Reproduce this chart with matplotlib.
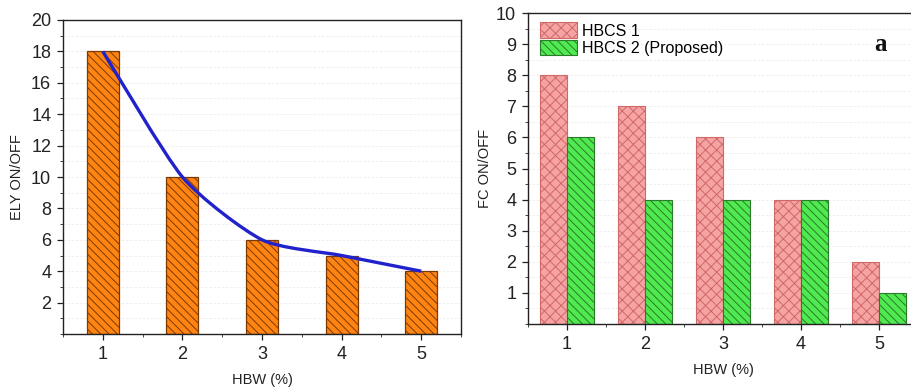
import numpy as np
import matplotlib
matplotlib.use("Agg")
import matplotlib.pyplot as plt
from matplotlib.path import Path
from matplotlib.patches import PathPatch
from matplotlib.ticker import MultipleLocator

plt.rcParams['font.family'] = ['Liberation Sans', 'DejaVu Sans']
plt.rcParams['hatch.linewidth'] = 0.7

# Data
hbw = [1, 2, 3, 4, 5]
ely = [18, 10, 6, 5, 4]
fc_hbcs1 = [8, 7, 6, 4, 2]
fc_hbcs2 = [6, 4, 4, 4, 1]
series_names = ["HBCS 1", "HBCS 2 (Proposed)"]

fig = plt.figure(figsize=(9.11, 3.87), dpi=100)

def style_axis(ax):
    for s in ax.spines.values():
        s.set_linewidth(1.0)
        s.set_color('#222222')
    ax.tick_params(which='major', direction='out', length=4.5, width=0.9,
                   labelsize=13, colors='#222222', pad=4)
    ax.tick_params(which='minor', direction='out', length=2.5, width=0.7,
                   colors='#444444')
    ax.xaxis.set_minor_locator(MultipleLocator(0.5))
    ax.set_axisbelow(True)

def smooth_path(xs, ys, k=9.0):
    pts = np.column_stack([xs, ys]).astype(float)
    ext = np.vstack([pts[0], pts, pts[-1]])
    verts = [pts[0]]
    codes = [Path.MOVETO]
    for i in range(1, len(ext) - 2):
        p0, p1, p2, p3 = ext[i - 1], ext[i], ext[i + 1], ext[i + 2]
        c1 = p1 + (p2 - p0) / k
        c2 = p2 - (p3 - p1) / k
        verts += [c1, c2, p2]
        codes += [Path.CURVE4] * 3
    return Path(verts, codes)

# Left panel: ELY ON/OFF
ax1 = fig.add_axes([63 / 911, 1 - 334 / 387, 398 / 911, 314 / 387])
style_axis(ax1)
ax1.grid(True, which='both', axis='y', color='#ececec', linewidth=0.6,
         linestyle=(0, (3, 2)))
ax1.bar(hbw, ely, width=0.4, color='#FF8412', edgecolor='#7A3A05',
        hatch='\\\\\\\\', linewidth=0.9, zorder=2)
ax1.add_patch(PathPatch(smooth_path(hbw, ely), facecolor='none',
                        edgecolor='#2222CC', linewidth=2.4, zorder=3))
ax1.set_xlim(0.5, 5.5)
ax1.set_ylim(0, 20)
ax1.set_xticks(hbw)
ax1.set_yticks(range(2, 21, 2))
ax1.yaxis.set_minor_locator(MultipleLocator(1))
ax1.set_xlabel("HBW (%)", fontsize=10.5, labelpad=7, color='#222222')
ax1.set_ylabel("ELY ON/OFF", fontsize=10.5, labelpad=5, color='#222222')

# Right panel: FC ON/OFF
ax2 = fig.add_axes([528 / 911, 1 - 324 / 387, 390 / 911, 311 / 387])
style_axis(ax2)
ax2.grid(True, which='both', axis='y', color='#ececec', linewidth=0.6,
         linestyle=(0, (3, 2)))
x = np.array(hbw, dtype=float)
w = 0.35
ax2.bar(x - w / 2, fc_hbcs1, width=w, color='#F5A3A3', edgecolor='#D06868',
        hatch='xxx', linewidth=0.8, label=series_names[0], zorder=2)
ax2.bar(x + w / 2, fc_hbcs2, width=w, color='#4FEA4F', edgecolor='#2C7A2C',
        hatch='\\\\\\\\', linewidth=0.8, label=series_names[1], zorder=2)
ax2.set_xlim(0.5, 5.5)
ax2.set_ylim(0, 10)
ax2.set_xticks(hbw)
ax2.set_yticks(range(1, 11))
ax2.yaxis.set_minor_locator(MultipleLocator(0.5))
ax2.set_xlabel("HBW (%)", fontsize=10.5, labelpad=7, color='#222222')
ax2.set_ylabel("FC ON/OFF", fontsize=10.5, labelpad=3, color='#222222')
ax2.legend(loc='upper left', frameon=False, fontsize=11.5,
           handlelength=2.3, handleheight=1.15, handletextpad=0.3,
           borderaxespad=0.2, labelspacing=0.05, borderpad=0.2,
           bbox_to_anchor=(0.015, 0.99))
ax2.text(0.905, 0.90, "a", transform=ax2.transAxes, fontsize=18,
         fontweight='bold', family=['Liberation Serif', 'DejaVu Serif'],
         ha='center', va='center', color='#111111')

fig.savefig("out.png", dpi=100)
